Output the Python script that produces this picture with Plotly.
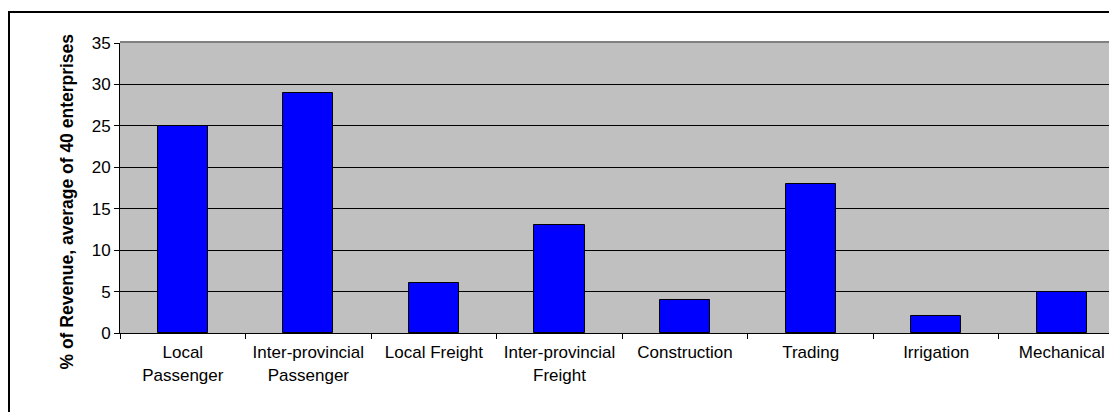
import plotly.graph_objects as go

# Revenue share by business line (average of 40 enterprises)
categories = [
    "Local<br>Passenger",
    "Inter-provincial<br>Passenger",
    "Local Freight",
    "Inter-provincial<br>Freight",
    "Construction",
    "Trading",
    "Irrigation",
    "Mechanical",
]
revenue_pct = [25, 29, 6, 13, 4, 18, 2, 5]
y_ticks = [0, 5, 10, 15, 20, 25, 30, 35]

W, H = 1109, 412
ML, MT, MB = 120, 43, 79
plot_w = W - ML
plot_h = H - MT - MB
cat_px = 125.57  # pixel width of one category slot

FONT = "Arial, 'Liberation Sans', sans-serif"

fig = go.Figure(
    go.Bar(
        x=categories,
        y=revenue_pct,
        width=0.4,
        marker=dict(color="#0000FF", line=dict(color="#000000", width=1)),
        hoverinfo="x+y",
    )
)

fig.update_layout(
    width=W,
    height=H,
    margin=dict(l=ML, r=0, t=MT, b=MB, pad=0),
    paper_bgcolor="#FFFFFF",
    plot_bgcolor="#C0C0C0",
    showlegend=False,
    font=dict(family=FONT, size=17, color="#000000"),
    bargap=0,
)

fig.update_xaxes(
    type="category",
    range=[-0.5, -0.5 + plot_w / cat_px],
    tickson="boundaries",
    ticks="outside",
    ticklen=5,
    tickcolor="#000000",
    ticklabelstandoff=4,
    showgrid=False,
    showline=True,
    linecolor="#000000",
    linewidth=1,
    zeroline=False,
    tickfont=dict(family=FONT, size=17, color="#000000"),
    fixedrange=True,
)

fig.update_yaxes(
    range=[0, 35],
    tickvals=y_ticks,
    ticktext=[str(v) for v in y_ticks],
    ticks="outside",
    ticklen=5,
    tickcolor="#000000",
    showgrid=True,
    gridcolor="#000000",
    gridwidth=1,
    showline=True,
    linecolor="#000000",
    linewidth=1,
    zeroline=False,
    tickfont=dict(family=FONT, size=17, color="#000000"),
    fixedrange=True,
)

# axis title, rotated
fig.add_annotation(
    text="<b>% of Revenue, average of 40 enterprises</b>",
    xref="paper", yref="paper",
    x=(67 - ML) / plot_w, y=(MT + plot_h - 201.5) / plot_h,
    xanchor="center", yanchor="middle",
    textangle=-90,
    showarrow=False,
    font=dict(family=FONT, size=17.5, color="#000000"),
)

# grey top border of the plotting area
fig.add_shape(
    type="line", xref="paper", yref="paper",
    x0=0, x1=1, y0=1 + 1 / plot_h, y1=1 + 1 / plot_h,
    line=dict(color="#808080", width=2),
)

# outer chart frame
fig.add_shape(
    type="rect", xref="paper", yref="paper",
    x0=(9 - ML) / plot_w, x1=1.2,
    y0=-0.5, y1=(MT + plot_h - 12) / plot_h,
    line=dict(color="#000000", width=2),
    fillcolor="rgba(0,0,0,0)",
    layer="above",
)

fig.write_html("out.html")
